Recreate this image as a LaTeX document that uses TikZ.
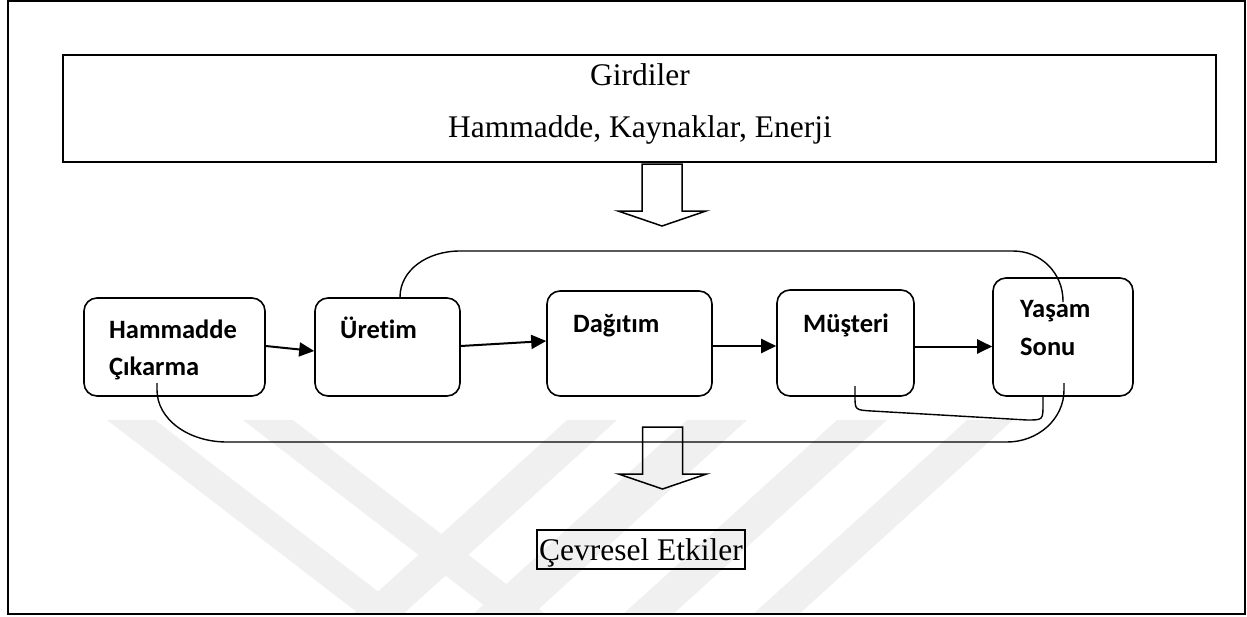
\documentclass[tikz,border=0pt]{standalone}
\usepackage{fontspec}
\setmainfont{Liberation Serif}
\newfontfamily\lblfont[Ligatures=NoCommon]{Carlito}
\usetikzlibrary{arrows.meta}
\begin{document}
\begin{tikzpicture}[x=1pt,y=-1pt,
  frame/.style={draw, line width=2pt, inner sep=0pt},
  stage/.style={draw, line width=1.6pt, rounded corners=13pt, inner sep=0pt},
  stagelabel/.style={anchor=base west, inner sep=0pt,
    font=\lblfont\bfseries\fontsize{26.5}{30}\selectfont},
  serif/.style={anchor=base, inner sep=0pt, font=\fontsize{31.5}{36}\selectfont},
  flow/.style={line width=2pt, -{Triangle[length=15pt,width=14pt]}},
  cycleline/.style={line width=1.4pt},
  wband/.style={fill=black!6, draw=none},
  blockarrow/.pic={
    \draw[line width=1.5pt, line join=miter]
      (-20,0) -- (-20,47) -- (-44,47) -- (0,62) -- (44,47) -- (20,47) -- (20,0) -- cycle;
  }
]
\useasboundingbox (0,0) rectangle (1247,616);

% faint background stripes
\begin{scope}
  \clip (8,420) rectangle (1245,614);
  \fill[wband] (107,420) -- (155,420) -- (410,616) -- (362,616) -- cycle;
  \fill[wband] (243,420) -- (293,420) -- (548,616) -- (498,616) -- cycle;
  \fill[wband] (567,420) -- (617,420) -- (401,616) -- (351,616) -- cycle;
  \fill[wband] (687,420) -- (747,420) -- (531,616) -- (471,616) -- cycle;
  \fill[wband] (837,420) -- (887,420) -- (671,616) -- (621,616) -- cycle;
  \fill[wband] (967,420) -- (1013,420) -- (797,616) -- (751,616) -- cycle;
\end{scope}

% outer frame
\draw[frame] (8,1) rectangle (1245,614);

% inputs box
\node[frame, minimum width=1153pt, minimum height=107pt] (gir) at (639.5,108.5) {};
\node[serif] (girT1) at (640,85) {Girdiler};
\node[serif] (girT2) at (640,137) {Hammadde, Kaynaklar, Enerji};

% block arrows
\pic at (662,164) {blockarrow};
\pic at (662.5,427) {blockarrow};

% life-cycle stages
\node[stage, minimum width=181pt, minimum height=98pt]  (ham) at (174.5,347) {};
\node[stage, minimum width=145pt, minimum height=98pt]  (ure) at (387.5,347) {};
\node[stage, minimum width=165pt, minimum height=105pt] (dag) at (629.5,343.5) {};
\node[stage, minimum width=137pt, minimum height=106pt] (mus) at (845.5,343) {};
\node[stage, minimum width=140pt, minimum height=118pt] (yas) at (1063,337) {};

\node[stagelabel] (hamT1) at (109,338) {Hammadde};
\node[stagelabel] (hamT2) at (109,375) {Çıkarma};
\node[stagelabel] (ureT)  at (340,338) {Üretim};
\node[stagelabel] (dagT)  at (573,332) {Dağıtım};
\node[stagelabel] (musT)  at (803,332) {Müşteri};
\node[stagelabel] (yasT1) at (1020,317) {Yaşam};
\node[stagelabel] (yasT2) at (1020,355) {Sonu};

% flow between stages
\draw[flow] ([yshift=1pt]ham.east) -- ([yshift=-4pt]ure.west);
\draw[flow] ([yshift=1pt]ure.east) -- ([yshift=2.5pt]dag.west);
\draw[flow] ([yshift=-2.5pt]dag.east) -- ([yshift=-3pt]mus.west);
\draw[flow] ([yshift=-3.5pt]mus.east) -- ([yshift=-9.5pt]yas.west);

% loop ends inside the boxes
\coordinate (topend) at (1063,302);
\coordinate (lpA) at (157,383);
\coordinate (lpB) at (1064,383);
\coordinate (musend) at (855,386);

% upper loop: production to end of life
\draw[cycleline] ([xshift=12.5pt]ure.north)
  .. controls +(0,-27) and +(-33,0) .. (460,251) -- (1013,251)
  .. controls +(28,0) and +(0,-28) .. (1063,301) -- (topend);

% lower loop: extraction to end of life
\draw[cycleline] (lpA) -- (157,390)
  .. controls +(0,29) and +(-39,0) .. (227,442) -- (1007,442)
  .. controls +(31,0) and +(0,29) .. (1064,390) -- (lpB);

% customer to end of life
\draw[cycleline] (musend) -- (855,396)
  .. controls (855,410) .. (872,411) -- (1027,420)
  .. controls (1043,420) .. (1043,404) -- ([xshift=-20pt]yas.south);

% environmental effects
\node[draw, line width=1.6pt, inner sep=0pt, anchor=base,
  minimum width=208pt, text height=30pt, text depth=9pt,
  font=\fontsize{31.5}{36}\selectfont] (cev) at (641,560) {Çevresel Etkiler};
\end{tikzpicture}
\end{document}
